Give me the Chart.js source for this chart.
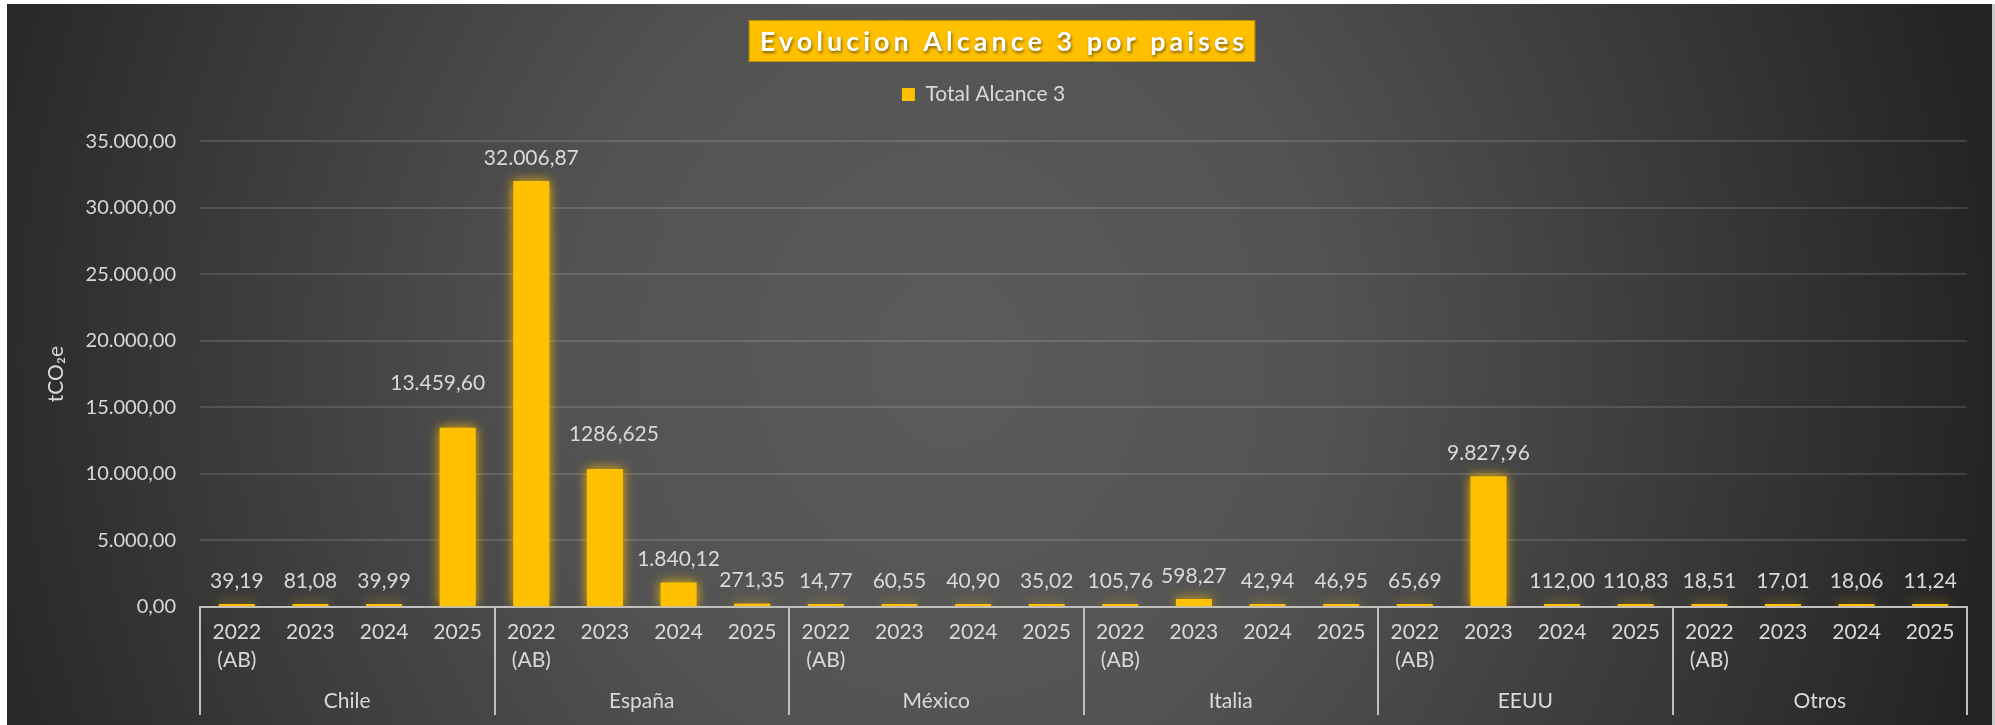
<!DOCTYPE html>
<html>
<head>
<meta charset="utf-8">
<script src="https://cdn.jsdelivr.net/npm/chart.js@4.4.1/dist/chart.umd.min.js"></script>
<style>
html,body{margin:0;padding:0;background:#fff;overflow:hidden}
#wrap{width:1995px;height:725px;position:relative}
canvas{display:block}
</style>
</head>
<body>
<div id="wrap"><canvas id="c" width="1995" height="725"></canvas></div>
<script>
// ---------- data ----------
const chartTitle = 'Evolucion Alcance 3 por paises';
const seriesName = 'Total Alcance 3';
const yAxisTitle = 'tCO\u2082e';
const countries = ['Chile', 'España', 'México', 'Italia', 'EEUU', 'Otros'];
const yearLabels = [
  ['2022', '(AB)'], '2023', '2024', '2025',
  ['2022', '(AB)'], '2023', '2024', '2025',
  ['2022', '(AB)'], '2023', '2024', '2025',
  ['2022', '(AB)'], '2023', '2024', '2025',
  ['2022', '(AB)'], '2023', '2024', '2025',
  ['2022', '(AB)'], '2023', '2024', '2025'
];
const chileValues  = [39.19, 81.08, 39.99, 13459.60];
const espanaValues = [32006.87, 10370, 1840.12, 271.35];
const mexicoValues = [14.77, 60.55, 40.90, 35.02];
const italiaValues = [105.76, 598.27, 42.94, 46.95];
const eeuuValues   = [65.69, 9827.96, 112.00, 110.83];
const otrosValues  = [18.51, 17.01, 18.06, 11.24];
const valueLabels = [
  '39,19', '81,08', '39,99', '13.459,60',
  '32.006,87', '1286,625', '1.840,12', '271,35',
  '14,77', '60,55', '40,90', '35,02',
  '105,76', '598,27', '42,94', '46,95',
  '65,69', '9.827,96', '112,00', '110,83',
  '18,51', '17,01', '18,06', '11,24'
];
const yMin = 0, yMax = 35000, yStep = 5000;

const allValues = [].concat(chileValues, espanaValues, mexicoValues, italiaValues, eeuuValues, otrosValues);

// ---------- helpers / styling ----------
function fmtES(v) {
  const fixed = v.toFixed(2).split('.');
  const intPart = fixed[0].replace(/\B(?=(\d{3})+(?!\d))/g, '.');
  return intPart + ',' + fixed[1];
}

const FONT = 'Lato, "Open Sans", "Noto Sans", sans-serif';
const TEXT = '#d9d9d9';
const AXIS = '#bfbfbf';
// manual label nudges seen in the reference (style, not data): index -> [dx, dy]
const labelNudge = { 3: [-20, -22], 5: [9, -12] };

const backgroundPlugin = {
  id: 'bg',
  beforeDraw(chart) {
    const ctx = chart.ctx, w = chart.width, h = chart.height;
    ctx.save();
    ctx.fillStyle = '#ffffff';
    ctx.fillRect(0, 0, w, h);
    ctx.fillStyle = '#c8c8c8';
    ctx.fillRect(w - 3, 4, 3, h - 4);
    ctx.beginPath();
    ctx.rect(7, 4, w - 10, h - 4);
    ctx.clip();
    ctx.translate(950, 360);
    ctx.scale(1, 1.1);
    const g = ctx.createRadialGradient(0, 0, 0, 0, 0, 1060);
    g.addColorStop(0, '#5b5b5b');
    g.addColorStop(0.35, '#535353');
    g.addColorStop(0.75, '#363636');
    g.addColorStop(1, '#232323');
    ctx.fillStyle = g;
    ctx.fillRect(-1100, -400, 2300, 800);
    ctx.restore();

    // title box + text
    ctx.save();
    ctx.font = 'bold 27px ' + FONT;
    ctx.letterSpacing = '4px';
    const tw = ctx.measureText(chartTitle).width;
    const cx = 1002, cy = 41;
    const bw = tw + 18, bh = 42;
    ctx.fillStyle = '#ffc000';
    ctx.fillRect(cx - bw / 2, cy - bh / 2, bw, bh);
    ctx.strokeStyle = '#b8900a';
    ctx.lineWidth = 1;
    ctx.strokeRect(cx - bw / 2 + 0.5, cy - bh / 2 + 0.5, bw - 1, bh - 1);
    ctx.fillStyle = '#ffffff';
    ctx.textAlign = 'center';
    ctx.textBaseline = 'middle';
    ctx.shadowColor = 'rgba(0,0,0,0.5)';
    ctx.shadowOffsetX = 1;
    ctx.shadowOffsetY = 2;
    ctx.shadowBlur = 3;
    ctx.fillText(chartTitle, cx + 2, cy + 1);
    ctx.restore();
  }
};

const glowLabelPlugin = {
  id: 'glowLabels',
  beforeDatasetsDraw(chart) {
    const ctx = chart.ctx;
    ctx.save();
    ctx.shadowColor = 'rgba(255,192,0,0.95)';
    ctx.shadowBlur = 12;
  },
  afterDatasetsDraw(chart) {
    const ctx = chart.ctx;
    ctx.restore();
    ctx.save();
    ctx.font = '21px ' + FONT;
    ctx.fillStyle = TEXT;
    ctx.textAlign = 'center';
    ctx.textBaseline = 'middle';
    const meta = chart.getDatasetMeta(0);
    meta.data.forEach((bar, i) => {
      const n = labelNudge[i] || [0, 0];
      ctx.fillText(valueLabels[i], bar.x + n[0], bar.y - 23 + n[1]);
    });
    ctx.restore();
  }
};

function build() {
  new Chart(document.getElementById('c'), {
    type: 'bar',
    data: {
      labels: yearLabels,
      datasets: [{
        label: seriesName,
        data: allValues,
        backgroundColor: '#ffc000',
        borderWidth: 0,
        minBarLength: 3,
        categoryPercentage: 1.0,
        barPercentage: 0.49,
        xAxisID: 'x',
        yAxisID: 'y'
      }]
    },
    options: {
      responsive: false,
      animation: false,
      devicePixelRatio: 1,
      layout: { padding: { top: 74, left: 0, right: 28, bottom: 0 } },
      plugins: {
        legend: {
          position: 'top',
          labels: {
            color: TEXT,
            font: { family: FONT, size: 21 },
            boxWidth: 13,
            boxHeight: 13,
            padding: 10
          }
        },
        subtitle: {
          display: true,
          text: '',
          weight: 500,
          font: { size: 1 },
          padding: { top: 25, bottom: 0 }
        },
        title: { display: false },
        tooltip: { enabled: false }
      },
      scales: {
        y: {
          min: yMin,
          max: yMax,
          ticks: {
            stepSize: yStep,
            color: TEXT,
            font: { family: FONT, size: 20 },
            padding: 24,
            callback: (v) => fmtES(v)
          },
          grid: { color: 'rgba(255,255,255,0.13)', lineWidth: 2, drawTicks: false },
          border: { display: false },
          title: {
            display: true,
            text: yAxisTitle,
            color: TEXT,
            font: { family: FONT, size: 21 },
            padding: { top: 44, bottom: 0 }
          },
          afterFit(scale) { scale.width = 200; }
        },
        x: {
          type: 'category',
          position: 'bottom',
          weight: 0,
          offset: true,
          grid: {
            display: true,
            drawOnChartArea: false,
            drawTicks: true,
            tickLength: 108,
            offset: true,
            lineWidth: 2,
            color: (ctx) => {
              if (ctx.index === undefined || ctx.type === 'scale') return AXIS;
              return ctx.index % 4 === 0 ? AXIS : 'rgba(0,0,0,0)';
            }
          },
          border: { display: true, color: AXIS, width: 2 },
          ticks: {
            color: TEXT,
            font: { family: FONT, size: 21, lineHeight: 1.3 },
            padding: -96,
            autoSkip: false,
            maxRotation: 0,
            minRotation: 0
          },
          afterFit(scale) { scale.height = 75; }
        },
        x2: {
          type: 'category',
          position: 'bottom',
          weight: 1,
          labels: countries,
          offset: true,
          grid: { display: false, drawTicks: false },
          border: { display: false },
          ticks: {
            color: TEXT,
            font: { family: FONT, size: 21 },
            padding: 7,
            autoSkip: false,
            maxRotation: 0
          },
          afterFit(scale) { scale.height = 43; }
        }
      }
    },
    plugins: [backgroundPlugin, glowLabelPlugin]
  });
}

if (document.fonts && document.fonts.load) {
  Promise.all([
    document.fonts.load('20px Lato'),
    document.fonts.load('bold 27px Lato')
  ]).then(build, build);
} else {
  build();
}
</script>
</body>
</html>
